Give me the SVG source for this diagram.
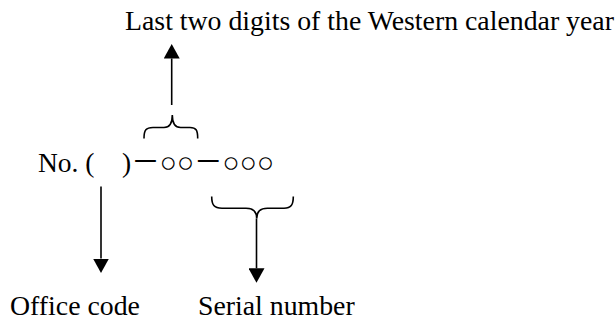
<svg xmlns="http://www.w3.org/2000/svg" width="616" height="323" viewBox="0 0 616 323">
<style>
  .t { font-family: "Liberation Serif", "Noto Sans CJK JP", serif; font-size: 27.8px; fill: #000; }
  .c { font-family: "Liberation Serif", "Noto Sans CJK JP", serif; font-size: 27.5px; fill: #000; }
  .ln { stroke: #000; stroke-width: 1.6; fill: none; }
</style>
<defs>
  <marker id="ah" viewBox="0 0 14.5 16" refX="0" refY="8" markerWidth="14.5" markerHeight="16" markerUnits="userSpaceOnUse" orient="auto">
    <path d="M0,0 L14.5,8 L0,16 z" fill="#000"/>
  </marker>
</defs>
<rect width="616" height="323" fill="#fff"/>
<g id="year-label"><text class="t" x="125" y="30">Last two digits of the Western calendar year</text></g>
<g id="number-format"><text class="c" x="38" y="172">No. (　)<tspan font-size="28.5">－○○－○○○</tspan></text></g>
<g id="office-label"><text class="t" x="10" y="315">Office code</text></g>
<g id="serial-label"><text class="t" x="198" y="315">Serial number</text></g>
<g id="connectors">
  <path class="ln" d="M144,138.5 C144,130 146,127.5 153,127.5 L164,127.5 C169,127.5 172.3,124 172.3,115 C172.3,124 175.6,127.5 180.6,127.5 L190,127.5 C196,127.5 197.7,130 197.7,138.5"/>
  <line class="ln" x1="171.7" y1="105" x2="171.7" y2="58.5" marker-end="url(#ah)"/>
  <line class="ln" x1="101" y1="186.5" x2="101" y2="258.5" marker-end="url(#ah)"/>
  <path class="ln" d="M211.7,196.5 C211.7,205 214,208.3 222,208.3 L246,208.3 C252,208.3 256.7,211 256.7,218.5 C256.7,211 261.4,208.3 267.4,208.3 L284,208.3 C291,208.3 293.3,205 293.3,196.5"/>
  <line class="ln" x1="256.5" y1="218.5" x2="256.5" y2="268.3" marker-end="url(#ah)"/>
</g>
</svg>
